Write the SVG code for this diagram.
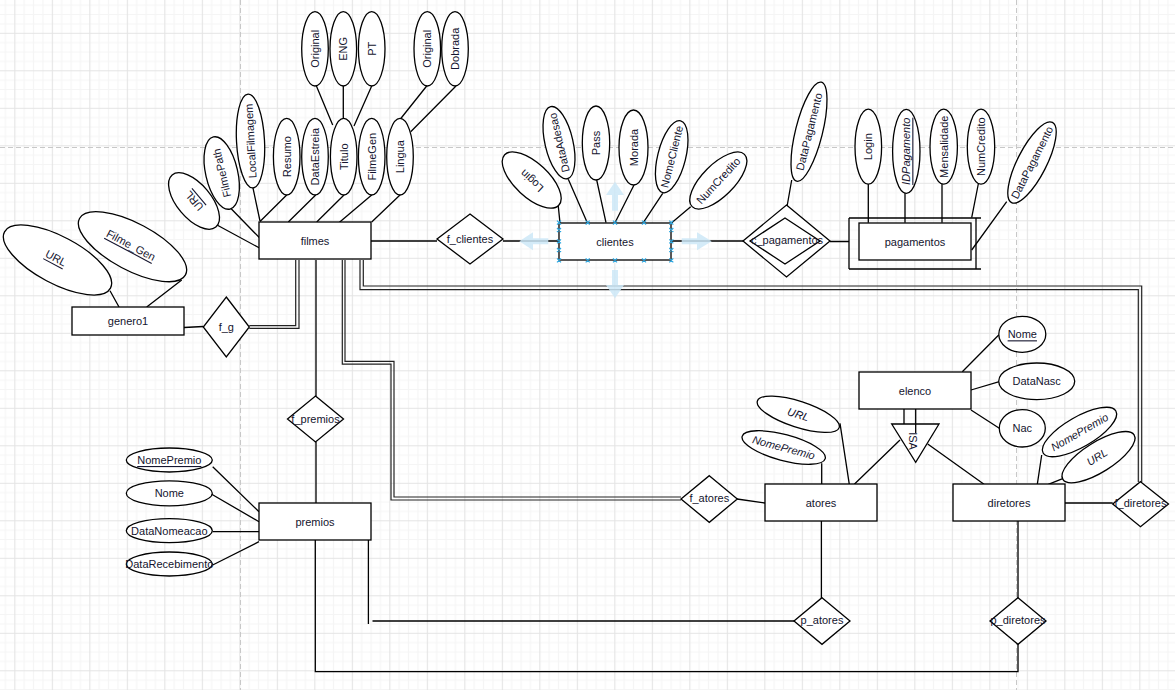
<svg xmlns="http://www.w3.org/2000/svg" width="1175" height="690" viewBox="0 0 1175 690">
<defs>
<pattern id="grid" width="37.5" height="37.5" patternUnits="userSpaceOnUse" x="14.3" y="32.8">
<path d="M9.875 0V37.5M19.25 0V37.5M28.625 0V37.5M0 9.875H37.5M0 19.25H37.5M0 28.625H37.5" stroke="#f5f5f5" stroke-width="1.2"/>
<path d="M0.5 0V37.5M0 0.5H37.5" stroke="#e4e4e4" stroke-width="1.2"/>
</pattern>
<style>
.n{fill:#fff;stroke:#000;stroke-width:1.3}
.c{fill:none;stroke:#000;stroke-width:1.3}
.d{fill:none;stroke:#222;stroke-width:1.2}
.t{font-family:"Liberation Sans",Arial,sans-serif;font-size:11px;fill:#14142e;text-anchor:middle;dominant-baseline:central}
.u{text-decoration:underline}
.i{font-style:italic}
.pg{stroke:#c8c8c8;stroke-width:1;stroke-dasharray:5 3;fill:none}
.sel{stroke:#2ea7e0;stroke-width:1.2;fill:none}
.ar{fill:#cde7f7;opacity:0.85}
</style>
</defs>
<rect width="1175" height="690" fill="#fff"/>
<rect width="1175" height="690" fill="url(#grid)"/>
<g id="page-lines">
<path class="pg" d="M240.5 0V690M1016.5 0V690M0 147.5H1175"/>
</g>

<g id="connectors">
<path class="c" d="M316 85L332.7 125M343.3 86V118.5M371.7 86L354 126M426.7 86L400 119.5M456 86L410.7 131.7"/>
<path class="c" d="M286.7 195L260 221.5M315.7 195L288.3 222M344 195L316.7 222M371.7 195L338.3 223.3M400 195L371.7 222M252.7 186.7L260 221M230.7 208.3L260 238.3M217 225L260 248.3"/>
<path class="c" d="M371 241H437M503 241H559M671 241H743M830 241.5H849"/>
<path class="c" d="M791.7 180L785 218M868.3 184V222.7M905 193V222.7M942 184V222.7M978.3 184L971.7 217.7M1006.7 201.7L971.7 250"/>
<path class="c" d="M557.3 196.7L560 222.7M568.3 179.3L587.3 222.7M596.7 180L606 222.7M634 185L615 222.7M662.7 193.3L643.3 222.7M690.7 206.7L671.7 222.7"/>
<path class="c" d="M110 290.7L119 307M181.7 280L146.7 307M184 327.5L203.3 326.5"/>
<path class="d" d="M249.3 325.7H295.7V260M249.3 328.3H299V260"/>
<path class="d" d="M345 260V361.3H394V497H681M342.3 260V364.1H391V500H681"/>
<path class="d" d="M363.3 260V286H1141.7V482M360 260V289.7H1138.3V482"/>
<path class="c" d="M316 260V396M316 442V503"/>
<path class="c" d="M315.3 540V671.7H1018V644M368.4 540V624M372.5 621H794"/>
<path class="c" d="M821.4 521V598M1018 521V598M737 499L765 503M1065 503H1112.7"/>
<path class="c" d="M998.7 335L962.3 371.7M999.3 381.7L971 390M999.3 428.3L971 410"/>
<path class="c" d="M904 409V424M915.7 409V433M900 440L854.3 484.3M927.7 444L984 484.3"/>
<path class="c" d="M840 423.3L849.3 484.3M821.7 463.3V484.3M1041.7 455L1037.3 484.3M1063.3 478.3L1048.3 484.3"/>
<path class="c" d="M212.7 466.7L259 511.7M210 493.3L259 521.7M212.7 531.7H259M212.7 565L259 541.7"/>
</g>

<g id="filmes"><rect class="n" x="259" y="222" width="112" height="37"/><text class="t" x="315" y="241">filmes</text></g>
<g id="clientes"><rect class="n" x="559" y="223" width="112" height="37"/><text class="t" x="615" y="241.5">clientes</text></g>
<g id="pagamentos">
<path class="n" d="M849 218H981M849 269H981M976 218V269M849 218V269"/>
<rect class="n" x="859" y="223" width="112" height="37"/><text class="t" x="915" y="241.5">pagamentos</text></g>
<g id="genero1"><rect class="n" x="72" y="307" width="112" height="28"/><text class="t" x="128" y="321">genero1</text></g>
<g id="premios"><rect class="n" x="259" y="503" width="112" height="37"/><text class="t" x="315" y="521.5">premios</text></g>
<g id="atores"><rect class="n" x="765" y="484" width="112" height="37"/><text class="t" x="821" y="503">atores</text></g>
<g id="diretores"><rect class="n" x="953" y="484" width="112" height="37"/><text class="t" x="1009" y="503">diretores</text></g>
<g id="elenco"><rect class="n" x="859" y="372" width="112" height="37"/><text class="t" x="915" y="390.5">elenco</text></g>

<g id="f_clientes"><path class="n" d="M470 214L503 239L470 264L437 239Z"/><text class="t" x="470" y="239">f_clientes</text></g>
<g id="c_pagamentos"><path class="n" d="M786.5 205L830 241L786.5 277L743 241Z"/><path class="n" d="M785 218L820 241L785 264L750 241Z"/><text class="t" x="787" y="240">c_pagamentos</text></g>
<g id="f_g"><path class="n" d="M226.3 297L249.3 327L226.3 357L203.3 327Z"/><text class="t" x="226.3" y="327">f_g</text></g>
<g id="f_premios"><path class="n" d="M315.5 396L343.5 419L315.5 442L287.5 419Z"/><text class="t" x="315.5" y="418.5">f_premios</text></g>
<g id="f_atores"><path class="n" d="M709.3 475.7L737.3 499L709.3 522.3L681 499Z"/><text class="t" x="709.3" y="497.5">f_atores</text></g>
<g id="f_diretores"><path class="n" d="M1140.5 481.7L1168.5 504L1140.5 526.7L1112.7 504Z"/><text class="t" x="1140.5" y="503">f_diretores</text></g>
<g id="p_atores"><path class="n" d="M822 597.7L850 621L822 644.3L794 621Z"/><text class="t" x="822" y="620">p_atores</text></g>
<g id="p_diretores"><path class="n" d="M1018 597.7L1046 621L1018 644.3L990 621Z"/><text class="t" x="1018" y="620">p_diretores</text></g>
<g id="ISA"><path class="n" d="M891.7 424H939L915.7 462.3Z"/><path class="c" d="M915.7 424V433"/><text class="t" transform="translate(913 441) rotate(90)">ISA</text></g>

<g id="attr-filmes">
<g id="a-url-f"><ellipse class="n" transform="translate(194 201) rotate(50)" rx="34" ry="17"/><text class="t u" transform="translate(194 201) rotate(230)">URL</text></g>
<g id="a-filmepath"><ellipse class="n" transform="translate(221.7 173) rotate(77)" rx="37" ry="16"/><text class="t" transform="translate(221.7 173) rotate(-103)">FilmePath</text></g>
<g id="a-localfilmagem"><ellipse class="n" transform="translate(250.5 141) rotate(87)" rx="47" ry="14"/><text class="t" transform="translate(250.5 141) rotate(-93)">LocalFilmagem</text></g>
<g id="a-resumo"><ellipse class="n" cx="286.7" cy="156.7" rx="13.3" ry="38.3"/><text class="t" transform="translate(286.7 156.7) rotate(-90)">Resumo</text></g>
<g id="a-dataestreia"><ellipse class="n" cx="315" cy="156.7" rx="13.3" ry="38.3"/><text class="t" transform="translate(315 156.7) rotate(-90)">DataEstreia</text></g>
<g id="a-titulo"><ellipse class="n" cx="343.7" cy="156.7" rx="13.3" ry="38.3"/><text class="t" transform="translate(343.7 156.7) rotate(-90)">Titulo</text></g>
<g id="a-filmegen"><ellipse class="n" cx="371.7" cy="156.7" rx="13.3" ry="38.3"/><text class="t" transform="translate(371.7 156.7) rotate(-90)">FilmeGen</text></g>
<g id="a-lingua"><ellipse class="n" cx="400" cy="156.7" rx="13.3" ry="38.3"/><text class="t" transform="translate(400 156.7) rotate(-90)">Lingua</text></g>
<g id="a-original1"><ellipse class="n" cx="315" cy="48.8" rx="13.3" ry="37.2"/><text class="t" transform="translate(315 48.8) rotate(-90)">Original</text></g>
<g id="a-eng"><ellipse class="n" cx="343.3" cy="48.8" rx="13.3" ry="37.2"/><text class="t" transform="translate(343.3 48.8) rotate(-90)">ENG</text></g>
<g id="a-pt"><ellipse class="n" cx="371.7" cy="48.8" rx="13.3" ry="37.2"/><text class="t" transform="translate(371.7 48.8) rotate(-90)">PT</text></g>
<g id="a-original2"><ellipse class="n" cx="427.3" cy="48.8" rx="13.3" ry="37.2"/><text class="t" transform="translate(427.3 48.8) rotate(-90)">Original</text></g>
<g id="a-dobrada"><ellipse class="n" cx="455" cy="48.8" rx="13.3" ry="37.2"/><text class="t" transform="translate(455 48.8) rotate(-90)">Dobrada</text></g>
</g>

<g id="attr-genero1">
<g id="a-url-g"><ellipse class="n" transform="translate(57.5 260) rotate(28)" rx="60" ry="23.5"/><text class="t u" transform="translate(56 258) rotate(28)">URL</text></g>
<g id="a-filme-gen"><ellipse class="n" transform="translate(132.5 246.7) rotate(28)" rx="60" ry="23.5"/><text class="t u" transform="translate(131 245) rotate(28)">Filme_Gen</text></g>
</g>

<g id="attr-clientes">
<g id="a-login-c"><ellipse class="n" transform="translate(531.7 180) rotate(43)" rx="37" ry="17"/><text class="t" transform="translate(531.7 181) rotate(223)">Login</text></g>
<g id="a-dataadesao"><ellipse class="n" transform="translate(559 142.7) rotate(77)" rx="37" ry="14"/><text class="t" transform="translate(559 142.7) rotate(-103)">DataAdesao</text></g>
<g id="a-pass"><ellipse class="n" cx="596" cy="143" rx="13.7" ry="37"/><text class="t" transform="translate(596 143) rotate(-90)">Pass</text></g>
<g id="a-morada"><ellipse class="n" cx="633.5" cy="147.5" rx="14.5" ry="37.5"/><text class="t" transform="translate(633.5 147.5) rotate(-90)">Morada</text></g>
<g id="a-nomecliente"><ellipse class="n" transform="translate(671.7 156.7) rotate(104)" rx="37" ry="14"/><text class="t" transform="translate(671.7 156.7) rotate(-76)">NomeCliente</text></g>
<g id="a-numcredito-c"><ellipse class="n" transform="translate(718.3 180.5) rotate(-45)" rx="37" ry="16"/><text class="t" transform="translate(718.3 180.5) rotate(-47)">NumCredito</text></g>
</g>

<g id="attr-pagamentos">
<g id="a-datapag-c"><ellipse class="n" transform="translate(809 131.7) rotate(-76)" rx="51" ry="13.5"/><text class="t" transform="translate(809 131.7) rotate(-76)">DataPagamento</text></g>
<g id="a-login-p"><ellipse class="n" cx="868.3" cy="146.7" rx="13.3" ry="37.5"/><text class="t" transform="translate(868.3 146.7) rotate(-90)">Login</text></g>
<g id="a-idpag"><ellipse class="n" cx="906.3" cy="151.3" rx="13.7" ry="42"/><text class="t u i" transform="translate(906.3 151.3) rotate(-90)">IDPagamento</text></g>
<g id="a-mensalidade"><ellipse class="n" cx="943.7" cy="146.7" rx="13.7" ry="37.5"/><text class="t" transform="translate(943.7 146.7) rotate(-90)">Mensalidade</text></g>
<g id="a-numcredito-p"><ellipse class="n" cx="981" cy="146.7" rx="13.7" ry="37.5"/><text class="t" transform="translate(981 146.7) rotate(-90)">NumCredito</text></g>
<g id="a-datapag-p"><ellipse class="n" transform="translate(1032 162.5) rotate(-63)" rx="45" ry="14.5"/><text class="t" transform="translate(1032 162.5) rotate(-63)">DataPagamento</text></g>
</g>

<g id="attr-elenco">
<g id="a-nome-e"><ellipse class="n" cx="1022.3" cy="334.3" rx="23.5" ry="18"/><text class="t u" x="1022.3" y="334.3">Nome</text></g>
<g id="a-datanasc"><ellipse class="n" cx="1036.7" cy="381.3" rx="38" ry="18.3"/><text class="t" x="1036.7" y="381.3">DataNasc</text></g>
<g id="a-nac"><ellipse class="n" cx="1022.3" cy="428.3" rx="23" ry="18.7"/><text class="t" x="1022.3" y="428.3">Nac</text></g>
</g>

<g id="attr-atores">
<g id="a-url-a"><ellipse class="n" transform="translate(798.3 414.3) rotate(18)" rx="43" ry="13"/><text class="t i" transform="translate(798.3 414.3) rotate(18)">URL</text></g>
<g id="a-nomepremio-a"><ellipse class="n" transform="translate(783.7 447.5) rotate(15)" rx="43" ry="13"/><text class="t i" transform="translate(783.7 447.5) rotate(15)">NomePremio</text></g>
</g>

<g id="attr-diretores">
<g id="a-nomepremio-d"><ellipse class="n" transform="translate(1079.5 432) rotate(-30)" rx="42" ry="15"/><text class="t i" transform="translate(1079.5 432) rotate(-30)">NomePremio</text></g>
<g id="a-url-d"><ellipse class="n" transform="translate(1098.5 457.2) rotate(-32)" rx="42" ry="15"/><text class="t i" transform="translate(1097 457) rotate(-32)">URL</text></g>
</g>

<g id="attr-premios">
<g id="a-nomepremio-p"><ellipse class="n" cx="169.3" cy="460" rx="43" ry="12"/><text class="t u" x="169.3" y="460">NomePremio</text></g>
<g id="a-nome-p"><ellipse class="n" cx="169.3" cy="493.3" rx="43" ry="12.5"/><text class="t" x="169.3" y="493.3">Nome</text></g>
<g id="a-datanomeacao"><ellipse class="n" cx="169.3" cy="530.7" rx="43" ry="12"/><text class="t" x="169.3" y="530.7">DataNomeacao</text></g>
<g id="a-datarecebimento"><ellipse class="n" cx="169.3" cy="564" rx="43" ry="12"/><text class="t" x="169.3" y="564">DataRecebimento</text></g>
</g>

<g id="selection">
<path class="ar" d="M612 210.7V195H606L615 181.7L624 195H618V210.7Z"/>
<path class="ar" d="M548.3 238.3H533V232.3L519.3 241.3L533 250.3V244.3H548.3Z"/>
<path class="ar" d="M681.7 238.3H697V232.3L711.7 241.3L697 250.3V244.3H681.7Z"/>
<path class="ar" d="M612 270V285H606L615 298.3L624 285H618V270Z"/>
<path class="sel" d="M557 220.7l4 4m0 -4l-4 4M585.7 220.7l4 4m0 -4l-4 4M613 220.7l4 4m0 -4l-4 4M642 220.7l4 4m0 -4l-4 4M669.3 220.7l4 4m0 -4l-4 4M557 258.3l4 4m0 -4l-4 4M585.7 258.3l4 4m0 -4l-4 4M613 258.3l4 4m0 -4l-4 4M642 258.3l4 4m0 -4l-4 4M669.3 258.3l4 4m0 -4l-4 4M557 228l4 4m0 -4l-4 4M557 239.3l4 4m0 -4l-4 4M557 248l4 4m0 -4l-4 4M669.3 228l4 4m0 -4l-4 4M669.3 239.3l4 4m0 -4l-4 4M669.3 248l4 4m0 -4l-4 4"/>
</g>
</svg>
